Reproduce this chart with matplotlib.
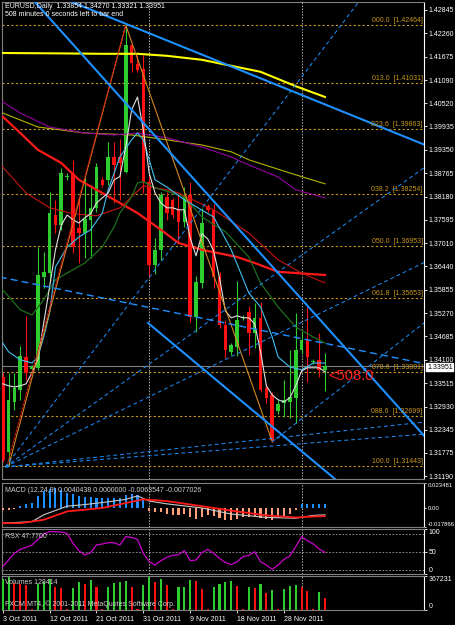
import matplotlib
matplotlib.use("Agg")
import matplotlib.pyplot as plt
import matplotlib.transforms as mtransforms

plt.rcParams['font.family'] = ['Liberation Sans', 'DejaVu Sans']

# ---------------- data ----------------
title_text = "EURUSD,Daily  1.33854 1.34270 1.33321 1.33951"
timer_text = "508 minutes 0 seconds left to bar end"
date_labels = ["3 Oct 2011", "12 Oct 2011", "21 Oct 2011", "31 Oct 2011",
               "9 Nov 2011", "18 Nov 2011", "28 Nov 2011"]
date_label_bars = [0, 8, 16, 24, 32, 40, 48]
month_sep_bars = [25, 51]

opens = [1.3367, 1.3180, 1.3305, 1.3335, 1.3418, 1.3387, 1.3390, 1.3617, 1.3626, 1.3772,
         1.3747, 1.3866, 1.3874, 1.3740, 1.3726, 1.3760, 1.3789, 1.3860, 1.3859, 1.3918,
         1.3917, 1.3880, 1.4197, 1.4149, 1.4136, 1.3855, 1.3647, 1.3685, 1.3818, 1.3810,
         1.3785, 1.3755, 1.3822, 1.3517, 1.3602, 1.3795, 1.3785, 1.3617, 1.3497, 1.3430,
         1.3442, 1.3514, 1.3530, 1.3477, 1.3515, 1.3340, 1.3322, 1.3282, 1.3302, 1.3305,
         1.3315, 1.3435, 1.3460, 1.3405, 1.3410, 1.33854]
highs = [1.3377, 1.3377, 1.3377, 1.3445, 1.3520, 1.3398, 1.3693, 1.3680, 1.3830, 1.3810,
         1.3889, 1.3878, 1.3910, 1.3818, 1.3864, 1.3847, 1.3902, 1.3868, 1.3955, 1.3955,
         1.3962, 1.42464, 1.4202, 1.4172, 1.4172, 1.3870, 1.3715, 1.3830, 1.3830, 1.3815,
         1.3827, 1.3842, 1.3855, 1.3620, 1.3790, 1.3800, 1.3800, 1.3630, 1.3510, 1.3452,
         1.3607, 1.3522, 1.3545, 1.3552, 1.3555, 1.3350, 1.3330, 1.3310, 1.3360, 1.3434,
         1.3527, 1.3480, 1.3542, 1.3412, 1.3477, 1.34270]
lows = [1.3155, 1.31443, 1.3285, 1.3310, 1.3360, 1.3383, 1.3385, 1.3590, 1.3602, 1.3727,
        1.3735, 1.3860, 1.3676, 1.3651, 1.3664, 1.3664, 1.3780, 1.3842, 1.3847, 1.3801,
        1.3810, 1.3876, 1.4130, 1.4130, 1.3826, 1.3618, 1.3625, 1.3660, 1.3759, 1.3765,
        1.3702, 1.3742, 1.3505, 1.3480, 1.3590, 1.3780, 1.3590, 1.3490, 1.3415, 1.3422,
        1.3420, 1.3510, 1.3422, 1.3440, 1.3330, 1.3302, 1.3205, 1.3275, 1.3267, 1.3265,
        1.3252, 1.3425, 1.3355, 1.3400, 1.3367, 1.33321]
closes = [1.3160, 1.3310, 1.3339, 1.3420, 1.3377, 1.3395, 1.3622, 1.3630, 1.3776, 1.3747,
          1.3876, 1.3869, 1.3693, 1.3726, 1.3762, 1.3790, 1.3893, 1.3847, 1.3918, 1.3897,
          1.3902, 1.4197, 1.4151, 1.4135, 1.3855, 1.3647, 1.3685, 1.3822, 1.3777, 1.3772,
          1.3755, 1.3817, 1.3517, 1.3605, 1.3752, 1.3785, 1.3617, 1.3497, 1.3435, 1.3447,
          1.3510, 1.3518, 1.3477, 1.3515, 1.3335, 1.3315, 1.3210, 1.3300, 1.3310, 1.3317,
          1.3435, 1.3460, 1.3417, 1.3408, 1.3385, 1.33951]

# moving averages: (bar, price)
ma_white_bars = list(range(0, 56))
ma_white = [1.3350, 1.3345, 1.3342, 1.3345, 1.3350, 1.3378, 1.3410, 1.3502, 1.3592, 1.3685,
            1.3747, 1.3772, 1.3760, 1.3752, 1.3765, 1.3775, 1.3802, 1.3815, 1.3827, 1.3860,
            1.3868, 1.3942, 1.4035, 1.4067, 1.3985, 1.3877, 1.3827, 1.3802, 1.3790, 1.3790,
            1.3785, 1.3785, 1.3714, 1.3670, 1.3725, 1.3712, 1.3682, 1.3615, 1.3532, 1.3515,
            1.3520, 1.3515, 1.3515, 1.3500, 1.3430, 1.3345, 1.3322, 1.3310, 1.3305, 1.3315,
            1.3345, 1.3382, 1.3390, 1.3390, 1.3390, 1.3380]
ma_cyan_bars = [0, 1, 3, 5, 6, 7, 8, 9, 11, 13, 15, 17, 18, 20, 22, 23, 24, 25, 26, 28,
                31, 36, 39, 42, 44, 46, 47, 49, 51, 53, 55]
ma_cyan = [1.3452, 1.3430, 1.3410, 1.3402, 1.3417, 1.3467, 1.3527, 1.3642, 1.3692, 1.3717,
           1.3735, 1.3777, 1.3835, 1.3917, 1.3960, 1.3977, 1.3960, 1.3910, 1.3860, 1.3842,
           1.3810, 1.3767, 1.3685, 1.3577, 1.3542, 1.3467, 1.3417, 1.3392, 1.3385, 1.3402,
           1.3402]
ma_green_bars = [0, 3, 5, 7, 9, 11, 14, 17, 19, 20, 22, 23, 24, 26, 29, 31, 34, 38, 42,
                 44, 47, 50, 53, 55]
ma_green = [1.3585, 1.3535, 1.3522, 1.3560, 1.3610, 1.3627, 1.3652, 1.3692, 1.3742, 1.3777,
            1.3817, 1.3852, 1.3855, 1.3840, 1.3827, 1.3817, 1.3767, 1.3730, 1.3667, 1.3602,
            1.3542, 1.3492, 1.3467, 1.3452]
ma_red_bars = [0, 3, 6, 10, 13, 17, 20, 23, 27, 30, 34, 40, 43, 47, 55]
ma_red = [1.4018, 1.3977, 1.3935, 1.3902, 1.3860, 1.3827, 1.3802, 1.3777, 1.3735, 1.3702,
          1.3685, 1.3667, 1.3652, 1.3630, 1.3622]
ma_dkred_bars = [0, 4, 8, 12, 16, 20, 24, 28, 30, 36, 42, 47, 51, 55]
ma_dkred = [1.3892, 1.3827, 1.3790, 1.3775, 1.3770, 1.3790, 1.3845, 1.3835, 1.3827, 1.3785,
            1.3727, 1.3660, 1.3627, 1.3602]
ma_purple_bars = [0, 3, 8, 14, 19, 23, 28, 34, 39, 42, 47, 50, 55]
ma_purple = [1.4055, 1.4027, 1.3992, 1.3977, 1.3972, 1.3977, 1.3965, 1.3942, 1.3917, 1.3897,
             1.3867, 1.3835, 1.3815]
ma_olive_bars = [0, 6, 14, 22, 28, 34, 39, 42, 49, 55]
ma_olive = [1.4027, 1.3992, 1.3977, 1.3972, 1.3960, 1.3947, 1.3930, 1.3910, 1.3877, 1.3850]
ma_yellow_bars = [0, 10, 17, 23, 28, 34, 39, 44, 50, 55]
ma_yellow = [1.4177, 1.4176, 1.4175, 1.4175, 1.4170, 1.4160, 1.4145, 1.4130, 1.4094, 1.4067]

fib_names = ["000.0", "013.0", "023.6", "038.2", "050.0", "061.8", "078.6", "088.6", "100.0"]
fib_prices = [1.42464, 1.41031, 1.39863, 1.38254, 1.36953, 1.35653, 1.33801, 1.32699, 1.31443]

# trend lines as (bar, price) anchor pairs
thick_lines = [((5.2, 1.43095), (72.1, 1.32170)),
               ((38.8, 1.41445), (72.1, 1.39470))]
channel_low = ((24.8, 1.35020), (56.7, 1.31120))
dash_line = ((-0.5, 1.36170), (72.1, 1.34000))
fan_origin = (0.4, 1.31420)
fan_targets = [(61.0, 1.43095), (72.1, 1.38920), (72.1, 1.36545),
               (72.1, 1.32545), (72.1, 1.32245)]
fan2_origin = (46.0, 1.32050)
fan2_targets = [(72.1, 1.35045)]
zigzag_bars = [1, 21, 46]
zigzag_prices = [1.31443, 1.42464, 1.32050]

price_ticks = [1.42845, 1.42260, 1.41675, 1.41090, 1.40520, 1.39935, 1.39350, 1.38765,
               1.38180, 1.37595, 1.37010, 1.36440, 1.35855, 1.35270, 1.34685, 1.34100,
               1.33515, 1.32930, 1.32345, 1.31775, 1.31190]
bid_price = 1.33951

macd_hist = [-0.0020, -0.0020, -0.0010, 0.0017, 0.0039, 0.0049, 0.0113, 0.0161, 0.0177, 0.0187,
             0.0170, 0.0145, 0.0129, 0.0113, 0.0103, 0.0103, 0.0097, 0.0090, 0.0090, 0.0090,
             0.0097, 0.0122, 0.0129, 0.0122, 0.0081, -0.0031, -0.0038, -0.0038, -0.0057, -0.0063,
             -0.0063, -0.0057, -0.0089, -0.0102, -0.0089, -0.0070, -0.0079, -0.0096, -0.0112, -0.0112,
             -0.0102, -0.0089, -0.0089, -0.0079, -0.0096, -0.0102, -0.0112, -0.0096, -0.0079, -0.0057,
             -0.0015, 0.0033, 0.0033, 0.0033, 0.0033, 0.0040]
macd_main_bars = [0, 5, 7, 11, 14, 18, 21, 23, 25, 28, 34, 39, 45, 50, 53, 55]
macd_main = [-0.0143, -0.0128, -0.0064, 0.0017, 0.0032, 0.0058, 0.0081, 0.0113, 0.0065, 0.0039,
             0.0000, -0.0057, -0.0089, -0.0096, -0.0070, -0.0064]
macd_signal_bars = [0, 3, 7, 11, 17, 22, 24, 28, 34, 39, 45, 50, 53, 55]
macd_signal = [-0.0143, -0.0143, -0.0111, -0.0032, 0.0000, 0.0058, 0.0081, 0.0065, 0.0017, -0.0025,
               -0.0070, -0.0089, -0.0080, -0.0077]
macd_scale_labels = ["0.023481", "0.00", "-0.017866"]
macd_scale_values = [0.023481, 0.0, -0.017866]

rsx = [16.3, 31.1, 45.9, 54.8, 59.3, 64.4, 77.0, 88.9, 94.0, 94.0,
       93.3, 90.4, 68.1, 51.9, 42.2, 47.4, 64.4, 66.7, 69.6, 69.6,
       64.4, 83.0, 81.5, 77.0, 45.9, 27.4, 20.0, 29.6, 37.0, 41.5,
       43.0, 51.9, 29.6, 31.1, 47.4, 54.8, 45.9, 34.8, 25.2, 20.7,
       27.4, 38.5, 41.5, 49.6, 27.4, 20.0, 10.4, 20.0, 32.6, 40.0,
       60.7, 83.0, 74.0, 66.7, 55.6, 47.77]
rsx_levels = [10, 50, 90]
rsx_scale_values = [100, 50, 0]

volumes = [333000, 352000, 295000, 276000, 265000, 10000, 280000, 300000, 333000, 250000,
           239000, 8000, 239000, 307000, 284000, 322000, 246000, 8000, 246000, 295000,
           300000, 314000, 246000, 8000, 265000, 352000, 307000, 333000, 269000, 8000,
           246000, 250000, 322000, 314000, 231000, 8000, 246000, 276000, 307000, 314000,
           257000, 8000, 246000, 240000, 276000, 182000, 219000, 8000, 231000, 257000,
           269000, 246000, 200000, 8000, 193000, 128414]
vol_scale_values = [367231, 0]

# ---------------- layout ----------------
W, H = 455, 625
fig = plt.figure(figsize=(W / 100, H / 100), dpi=100, facecolor='black')

BAR0_PX, BAR_PX = 2.7, 5.86
XL, XR = 2, 424
xlim = ((XL - BAR0_PX) / BAR_PX, (XR - BAR0_PX) / BAR_PX)

GREY = '#808080'
UP = '#2ECC2E'
DN = '#FF1010'
BLUE = '#1E90FF'
FIBC = '#C8961E'
FS = 5.0


def add_ax(y0, y1):
    ax = fig.add_axes([XL / W, 1 - y1 / H, (XR - XL) / W, (y1 - y0) / H])
    ax.set_facecolor('black')
    ax.set_xlim(*xlim)
    for s in ('left', 'top', 'bottom'):
        ax.spines[s].set_color(GREY)
        ax.spines[s].set_linewidth(0.8)
    ax.spines['right'].set_color('white')
    ax.spines['right'].set_linewidth(0.8)
    ax.tick_params(axis='x', which='both', length=0, labelbottom=False)
    ax.yaxis.tick_right()
    ax.tick_params(axis='y', colors='white', labelsize=FS, length=2, width=0.6, pad=1.5)
    for b in month_sep_bars:
        ax.axvline(b, color='#B0B0B0', lw=0.7, ls=(0, (1.5, 1.5)), zorder=1)
    return ax


def edge_labels(ax, values, labels, fs=FS):
    """scale labels; the extreme ones are kept inside the panel like MT4 does"""
    ax.set_yticks(values)
    ax.set_yticklabels(labels)
    ax.tick_params(axis='y', labelsize=fs)
    tl = ax.get_yticklabels()
    tl[0].set_va('top')
    tl[-1].set_va('bottom')


def ftext(x, y, s, **kw):
    kw.setdefault('color', 'white')
    kw.setdefault('fontsize', FS)
    kw.setdefault('va', 'center')
    fig.text(x / W, 1 - y / H, s, **kw)


# ---------------- main price panel ----------------
ax = add_ax(2, 479)
ax.set_ylim(1.31120, 1.43045)
ax.set_yticks(price_ticks)
ax.set_yticklabels([f"{p:.5f}" for p in price_ticks])

n = len(closes)
idx = list(range(n))

# fib levels
trans_fib = mtransforms.blended_transform_factory(ax.transAxes, ax.transData)
for name, p in zip(fib_names, fib_prices):
    ax.axhline(p, color=FIBC, lw=0.8, ls=(0, (2, 2)), zorder=2)
    ax.text(0.997, p + 0.0002, f"{name}  [{p:.5f}]", transform=trans_fib,
            ha='right', va='bottom', color=FIBC, fontsize=FS, zorder=6)

# bid line
ax.axhline(bid_price, color=GREY, lw=0.8, zorder=2)

# candles
for i in idx:
    o, h, l, c = opens[i], highs[i], lows[i], closes[i]
    col = UP if c >= o else DN
    ax.vlines(i, l, h, color=col, lw=0.8, zorder=3)
    lo, hi = min(o, c), max(o, c)
    if hi - lo < 0.0003:
        mid = (hi + lo) / 2
        lo, hi = mid - 0.00015, mid + 0.00015
    ax.bar(i, hi - lo, bottom=lo, width=0.62, color=col, lw=0, zorder=3)

# moving averages
ax.plot(ma_yellow_bars, ma_yellow, color='#FFFF00', lw=1.5, zorder=4)
ax.plot(ma_olive_bars, ma_olive, color='#B4B400', lw=0.8, zorder=4)
ax.plot(ma_purple_bars, ma_purple, color='#9400A0', lw=0.8, zorder=4)
ax.plot(ma_red_bars, ma_red, color='#FF1A1A', lw=1.6, zorder=4)
ax.plot(ma_dkred_bars, ma_dkred, color='#C81414', lw=0.8, zorder=4)
ax.plot(ma_green_bars, ma_green, color='#1E6E1E', lw=0.9, zorder=4)
ax.plot(ma_cyan_bars, ma_cyan, color='#40C0F0', lw=0.8, zorder=4)
ax.plot(ma_white_bars, ma_white, color='#E0E0E0', lw=0.8, zorder=4)

# zigzag and fibo diagonal
ax.plot(zigzag_bars, zigzag_prices, color='#D2881E', lw=0.8, zorder=5)
ax.plot([zigzag_bars[0] - 0.3, zigzag_bars[1]], [zigzag_prices[0], zigzag_prices[1]],
        color='#E01010', lw=0.7, ls=(0, (3, 1)), zorder=5)

# trend lines
for p1, p2 in thick_lines:
    ax.axline(p1, p2, color=BLUE, lw=1.5, zorder=5)
(b1, q1), (b2, q2) = channel_low
ax.plot([b1, b2], [q1, q2], color=BLUE, lw=1.5, zorder=5)
ax.plot([dash_line[0][0], dash_line[1][0]], [dash_line[0][1], dash_line[1][1]],
        color=BLUE, lw=1.0, ls=(0, (5, 3)), zorder=5)
for tb, tp in fan_targets:
    ax.plot([fan_origin[0], tb], [fan_origin[1], tp], color=BLUE, lw=0.7,
            ls=(0, (4, 3)), zorder=5)
for tb, tp in fan2_targets:
    ax.plot([fan2_origin[0], tb], [fan2_origin[1], tp], color=BLUE, lw=0.7,
            ls=(0, (4, 3)), zorder=5)

ax.text(55.6, 1.33690, "<508.0", color='#FF2020', fontsize=10.5, va='center', ha='left',
        zorder=7)

# ---------------- MACD panel ----------------
axm = add_ax(483, 527)
axm.set_ylim(-0.017866, 0.023481)
edge_labels(axm, macd_scale_values, macd_scale_labels, fs=4.3)
axm.tick_params(axis='y', pad=1.0, length=1.5)
hist_cols = [BLUE if v >= 0 else '#FFA07A' for v in macd_hist]
axm.bar(idx, macd_hist, width=0.36, color=hist_cols, lw=0, zorder=3)
axm.plot(macd_main_bars, macd_main, color='#C8C8C8', lw=0.8, zorder=4)
axm.plot(macd_signal_bars, macd_signal, color='#FF1A1A', lw=1.3, zorder=4)

# ---------------- RSX panel ----------------
axr = add_ax(529, 574)
axr.set_ylim(0, 100)
edge_labels(axr, rsx_scale_values, [str(v) for v in rsx_scale_values])
for lv in rsx_levels:
    axr.axhline(lv, color='#A0A0A0', lw=0.6, ls=(0, (2, 2)), zorder=1)
axr.plot(idx, rsx, color='#CC00CC', lw=0.9, zorder=4)

# ---------------- Volume panel ----------------
axv = add_ax(576, 610)
axv.set_ylim(0, 367231)
edge_labels(axv, vol_scale_values, [str(v) for v in vol_scale_values])
vcols = [UP if i == 0 or volumes[i] > volumes[i - 1] else DN for i in idx]
axv.bar(idx, volumes, width=0.36, color=vcols, lw=0, zorder=3)
axv.set_xticks(date_label_bars)
axv.set_xticklabels(date_labels)
axv.tick_params(axis='x', length=2.5, width=0.6, colors='white', labelbottom=True,
                labelsize=FS, pad=1.5)
for lab in axv.get_xticklabels():
    lab.set_ha('left')

# ---------------- texts ----------------
ftext(5, 6, title_text)
ftext(5, 15, timer_text)
ftext(5, 490, "MACD (12,24,9) 0.0040438 0.0000000 -0.0063547 -0.0077026", color='#D0D0D0')
ftext(5, 536, "RSX 47.7700", color='#D0D0D0')
ftext(5, 582, "Volumes 128414", color='#D0D0D0')
ftext(5, 604, "FXCM MT4, \u00a9 2001-2011 MetaQuotes Software Corp.", color='#D0D0D0')
fig.text(427 / W, 1 - 367 / H, f"{bid_price:.5f}", color='black', fontsize=FS, va='center',
         bbox=dict(facecolor='white', edgecolor='white', pad=0.6))

fig.savefig('out.png', dpi=100, facecolor='black')
